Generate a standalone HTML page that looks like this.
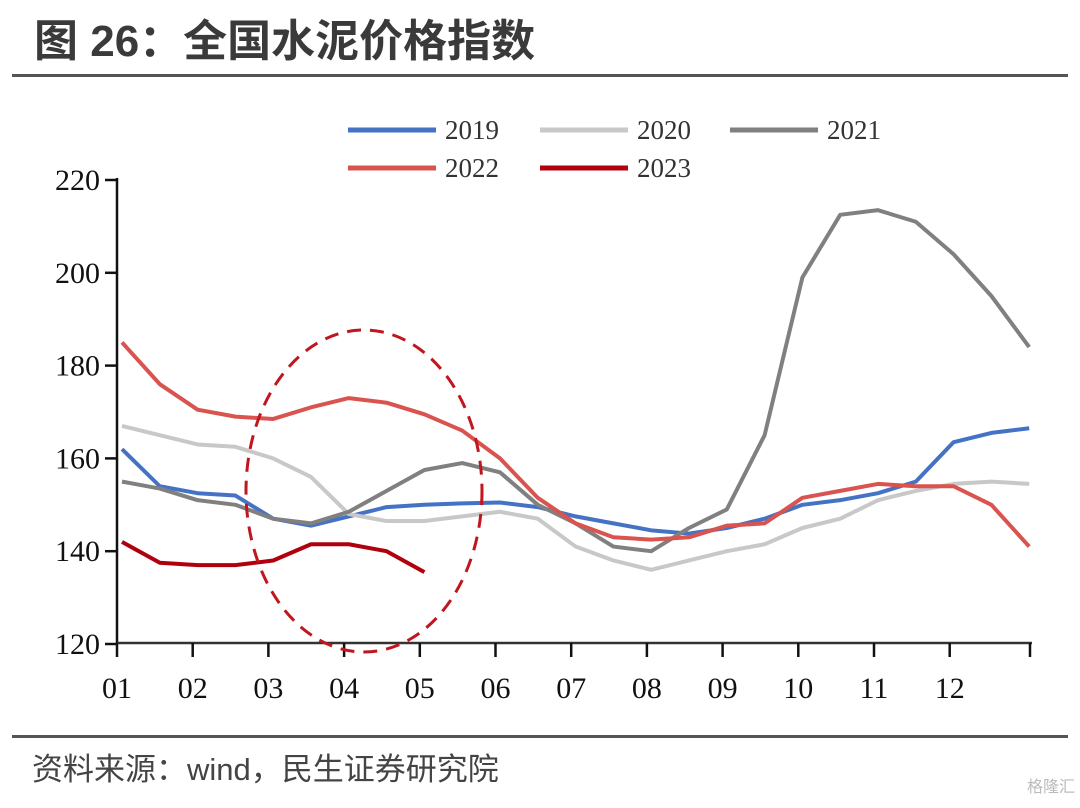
<!DOCTYPE html>
<html><head><meta charset="utf-8"><style>
body{margin:0;width:1080px;height:803px;background:#fff;overflow:hidden;font-family:"Liberation Sans","Noto Sans CJK SC",sans-serif}
</style></head><body>
<svg width="1080" height="803" xmlns="http://www.w3.org/2000/svg">
<text x="34" y="56" font-size="44" font-weight="bold" fill="#3a3a3a" font-family="'Liberation Sans','Noto Sans CJK SC',sans-serif">图 26：全国水泥价格指数</text>
<rect x="12" y="74" width="1056" height="3" fill="#555"/>
<rect x="12" y="735" width="1056" height="3" fill="#555"/>
<text x="32" y="780" font-size="31" fill="#444" font-family="'Liberation Sans','Noto Sans CJK SC',sans-serif">资料来源：wind，民生证券研究院</text>
<text x="1075" y="792" font-size="16" fill="#bbb" text-anchor="end" font-family="'Liberation Sans','Noto Sans CJK SC',sans-serif">格隆汇</text>
<g id="axes"></g>
<g id="series"></g>
<ellipse cx="364" cy="491" rx="118" ry="161" fill="none" stroke="#c0161e" stroke-width="3" stroke-dasharray="14,9"/>
<g id="legend"></g>
</svg>
<script>
const months = ["01","02","03","04","05","06","07","08","09","10","11","12"];
const yTicks = [120,140,160,180,200,220];
const s2019 = [162,154,152.5,152,147,145.5,147.5,149.5,150,150.3,150.5,149.5,147.5,146,144.5,143.8,145,147,150,151,152.5,155,163.5,165.5,166.5];
const s2020 = [167,165,163,162.5,160,156,148,146.5,146.5,147.5,148.5,147,141,138,136,138,140,141.5,145,147,151,153,154.5,155,154.5];
const s2021 = [155,153.5,151,150,147,146,148.5,153,157.5,159,157,150,146,141,140,145,149,165,199,212.5,213.5,211,204,195,184];
const s2022 = [185,176,170.5,169,168.5,171,173,172,169.5,166,160,151.5,146,143,142.5,143,145.5,146,151.5,153,154.5,154,154,150,141];
const s2023 = [142,137.5,137,137,138,141.5,141.5,140,135.5];
const NS="http://www.w3.org/2000/svg";
const yS=v=>644-(v-120)*4.64;
const xS=i=>122+i*37.8;
const tickX=m=>117+m*75.7;
const ax=document.getElementById('axes');
function mk(tag,attrs,parent){const e=document.createElementNS(NS,tag);for(const k in attrs)e.setAttribute(k,attrs[k]);parent.appendChild(e);return e;}
let l=mk('line',{x1:117,y1:178,x2:117,y2:644,stroke:'#111','stroke-width':2.5},ax);


l=mk('line',{x1:117,y1:643,x2:1032,y2:643,stroke:'#333','stroke-width':2.5},ax);


yTicks.forEach(v=>{
 const t=mk('line',{x1:105,x2:117,y1:yS(v),y2:yS(v),stroke:'#111','stroke-width':2.5},ax);
 
 
 const tx=mk('text',{x:100,y:yS(v)+10,'font-size':30,'text-anchor':'end','font-family':"'Liberation Serif',serif",fill:'#111'},ax);
 tx.textContent=v;
 
 
});
months.forEach((m,i)=>{
 const x=tickX(i);
 const t=mk('line',{x1:x,x2:x,y1:643,y2:657,stroke:'#111','stroke-width':2.5},ax);
 
 
 const tx=mk('text',{x:x,y:698,'font-size':30,'text-anchor':'middle','font-family':"'Liberation Serif',serif",fill:'#111'},ax);
 tx.textContent=m;
 
 
});
const endT=mk('line',{x1:1030,x2:1030,y1:643,y2:657,stroke:'#111','stroke-width':2.5},ax);


const ser=[["2019",s2019,"#4472c4"],["2020",s2020,"#c8c8c8"],["2021",s2021,"#808080"],["2022",s2022,"#d9534f"],["2023",s2023,"#b0000e"]];
const sg=document.getElementById('series');
ser.forEach(([n,d,c])=>{
 const p=mk('polyline',{points:d.map((v,i)=>xS(i)+','+yS(v)).join(' '),fill:'none',stroke:c,'stroke-width':4,'stroke-linejoin':'round'},sg);
 
 
});
const lg=document.getElementById('legend');
const pos=[[348,130],[540,130],[730,130],[348,168],[540,168]];
ser.forEach(([n,d,c],k)=>{
 const [x,y]=pos[k];
 const ln=mk('line',{x1:x,x2:x+88,y1:y,y2:y,stroke:c,'stroke-width':5},lg);
 
 
 const tx=mk('text',{x:x+97,y:y+9,'font-size':27,'font-family':"'Liberation Serif',serif",fill:'#333'},lg);
 tx.textContent=n;
 
 
});
</script>
</body></html>
